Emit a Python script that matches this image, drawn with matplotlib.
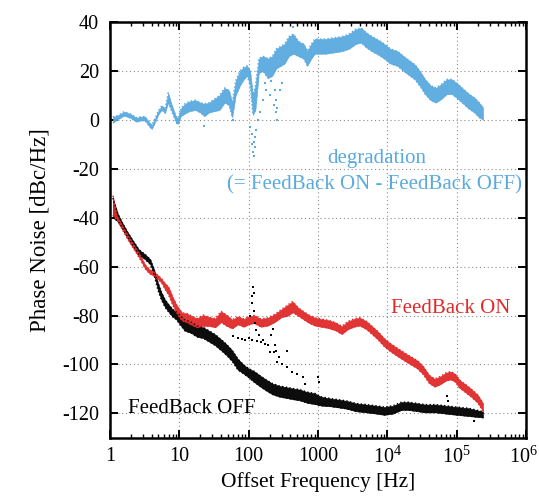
import numpy as np
import matplotlib.pyplot as plt
import matplotlib.transforms as mtransforms

plt.rcParams['font.family'] = ['Liberation Serif', 'DejaVu Serif']
plt.rcParams['mathtext.fontset'] = 'custom'
plt.rcParams['mathtext.rm'] = 'Liberation Serif'
plt.rcParams['mathtext.it'] = 'Liberation Serif:italic'

# degradation (ON - OFF): frequency [Hz], centre [dB], half width of the band [dB]
deg_f = [1.1, 1.3, 1.6, 2.0, 2.4, 2.8, 3.2, 3.6, 4.0, 4.5, 5.0, 5.6, 6.2, 6.9, 7.5, 8.2,
         9.0, 9.6, 10.5, 12, 14, 17, 20, 23, 27, 32, 38, 45, 52, 58, 65, 75, 85, 95,
         105, 115, 125, 140, 160, 190, 220, 250, 290, 330, 380, 440, 520, 620, 700,
         800, 900, 1000, 1300, 1700, 2200, 2800, 3500, 4200, 5000, 6000, 7500, 9000,
         11000, 14000, 17000, 20000, 25000, 30000, 35000, 42000, 50000, 60000, 72000,
         85000, 100000, 125000, 150000, 180000, 210000, 240000]
deg_c = [0, 1, 2.5, 1.5, 0, 0.5, 0.5, -1.5, -3, 0, 3, 5, 3.5, 9, 6, 3,
         0, -0.5, 3, 4.5, 5.5, 6, 5, 4, 5, 6, 7, 10, 9, 4, 13, 17, 19, 20,
         17, 6, 9, 22, 23, 21, 22, 25, 26, 27, 30, 31, 29, 28, 25,
         28, 30, 30, 30, 30.5, 31, 32, 34, 34.5, 32.5, 31, 29.5, 28,
         26, 25, 23, 21.5, 19.5, 16.5, 13.5, 11, 10, 11.5, 13.5,
         13.5, 12, 9.5, 7.5, 6, 4, 2.5]
deg_h = [1.2, 0.8, 0.8, 0.8, 0.8, 0.8, 0.8, 0.8, 0.8, 0.8, 0.8, 0.8, 0.8, 2, 1.5, 1.2,
         1.2, 1.2, 1.5, 2, 2, 2, 2, 2.5, 2, 2.5, 3, 3, 3, 3, 3, 3, 2.5, 2,
         3, 4, 5, 3, 3, 4, 4, 4, 4, 4, 4, 4, 3, 3, 3,
         3, 3, 3, 3, 3, 3, 3, 3, 3, 3, 3, 3, 3,
         3, 3, 3, 3, 3, 3, 3, 3, 3, 3, 3,
         3, 3, 3, 3, 3, 3, 2.5]
# scattered blue points off the band
deg_sf = [105, 110, 113, 116, 118, 120, 122, 125, 128, 135, 145, 160, 180, 200, 230,
          240, 245, 250, 255, 260, 300, 440, 60, 23, 9.3, 170, 210, 280]
deg_sv = [-3, -6, -10, -13, -15, -9, -7, -11, -4, 0, 3, 8, 12, 10, 6,
          12, 8, 3, 0, 5, 15, 38, 0, -2.5, -1.5, 15, 16, 12]

# FeedBack ON
on_f = [1.1, 1.25, 1.5, 1.8, 2.2, 2.7, 3.2, 3.7, 4.3, 5.0, 5.6, 6.2, 7.0, 8.0, 9.0, 10,
        11, 13, 15, 18, 22, 27, 33, 40, 48, 58, 70, 85, 100, 120, 150, 190, 240, 300,
        360, 430, 520, 620, 750, 900, 1100, 1400, 1800, 2200, 2700, 3300, 4000, 5000,
        6000, 7200, 9000, 11000, 14000, 18000, 22000, 27000, 33000, 40000, 48000,
        58000, 70000, 82000, 95000, 110000, 130000, 160000, 200000, 240000]
on_c = [-35, -40, -44, -48, -52, -56, -60, -62, -63, -64.5, -66, -68, -70, -74, -77, -79,
        -80.5, -81, -82, -83, -82, -82.5, -83, -80.5, -82, -83.5, -82, -83, -82, -81.5,
        -83, -82.5, -81, -79, -78, -76.5, -78.5, -80, -81.5, -82.5, -83, -83.5, -84.5,
        -86, -84, -83, -82.5, -84, -86, -88, -91, -93, -95, -97, -98.5, -100, -102.5,
        -106, -107.5, -106.5, -105, -104.5, -105.5, -108, -109.5, -111.5, -114, -117.5]
on_h = [4, 0.8, 0.8, 0.8, 0.8, 0.8, 0.8, 0.8, 0.8, 0.8, 0.8, 1.2, 1.6, 1.6, 1.6, 1.6,
        1.6, 1.8, 1.8, 1.8, 2.2, 1.8, 1.8, 2.2, 2.2, 1.8, 1.6, 1.6, 1.6, 1.6, 1.6, 1.6,
        1.6, 1.6, 2.2, 2.2, 1.6, 1.6, 1.6, 1.6, 1.6, 1.6, 1.6, 1.6, 1.6, 1.6, 1.6, 1.6,
        1.6, 1.6, 1.6, 1.6, 1.6, 1.6, 1.6, 1.6, 1.6, 1.6, 1.6,
        1.6, 1.6, 1.6, 1.6, 1.6, 1.6, 1.6, 1.6, 1.6]

# FeedBack OFF
off_f = [1.1, 1.3, 1.5, 1.8, 2.1, 2.6, 3.2, 3.8, 4.3, 4.9, 5.5, 6.2, 7.0, 8.0, 9.0, 10,
         12, 15, 18, 22, 27, 33, 40, 48, 58, 70, 85, 100, 120, 150, 180, 220, 280, 350,
         430, 550, 700, 900, 1100, 1500, 2000, 2600, 3500, 5000, 7000, 9000, 12000,
         16000, 20000, 27000, 35000, 50000, 70000, 100000, 150000, 240000]
off_c = [-36, -40, -43, -47, -50, -54, -56, -58, -62, -68, -72, -75, -77, -79, -80, -81.5,
         -84, -85, -86.5, -87, -88.5, -90, -92, -94, -96.5, -100, -102, -103.5, -105,
         -107, -108.5, -110, -111, -111.5, -112, -112.5, -113.5, -114, -115, -115.5,
         -116, -116.5, -117.5, -118, -118.5, -119, -118.5, -117, -117, -117.5, -118,
         -118, -118.5, -119, -119.5, -120.5]
off_h = [4, 1.5, 1, 1, 1, 1, 1, 1, 1, 1.5, 1.5, 1.5, 1.5, 1.5, 1.5, 1.8,
         2.2, 2.2, 2.2, 2.2, 2.2, 2.2, 2.2, 2.2, 2.2, 2.2, 1.8, 1.8, 2.2, 2.2, 2.2, 2.2,
         2.2, 2.2, 2.2, 2.2, 2.2, 2.2, 1.8, 1.6, 1.6, 1.6, 1.6, 1.6, 1.6, 1.6, 1.6,
         1.6, 1.6, 1.6, 1.6, 1.6, 1.6, 1.6, 1.6, 1.2]
# scattered black points (second sweep and spurs)
off_sf = [60, 70, 80, 90, 100, 110, 130, 140, 150, 160, 170, 190, 210, 230, 270, 300,
          105, 110, 113, 116, 118, 120, 124, 128, 200, 225, 240, 250, 255, 360, 360,
          420, 500, 610, 640, 1000, 1050, 73000, 75000, 180000]
off_sv = [-88.5, -89, -89.5, -90, -89, -90, -90.5, -88, -91, -90, -91.5, -92, -88,
          -95, -97, -100, -80, -75, -72, -68.5, -71, -78, -83, -86, -95, -85.5, -92,
          -94.5, -99, -94.5, -101, -103, -104, -105, -108, -105, -107, -113, -115, -123]

blue = '#5aaae0'
red = '#e02a2a'

fig = plt.figure(figsize=(5.39, 4.97), dpi=100)
ax = fig.add_axes([0.204, 0.119, 0.772, 0.837])

for f, c, h, col in [(deg_f, deg_c, deg_h, blue), (off_f, off_c, off_h, 'black'),
                     (on_f, on_c, on_h, red)]:
    c = np.array(c)
    h = np.array(h)
    ax.fill_between(f, c - h, c + h, color=col, lw=0.4, alpha=0.95)
    ax.plot(f, c + h, ':', color=col, lw=1.0)
    ax.plot(f, c - h, ':', color=col, lw=1.0)

ax.plot(deg_sf, deg_sv, 's', color=blue, ms=1.6, mew=0)
ax.plot(off_sf, off_sv, 's', color='black', ms=1.6, mew=0)

ax.set_xscale('log')
ax.set_xlim(1, 1e6)
ax.set_ylim(-130, 40)

x_ticks = [1, 10, 100, 1000, 1e4, 1e5, 1e6]
x_labels = ['1', '10', '100', '1000', r'$10^{4}$', r'$10^{5}$', r'$10^{6}$']
y_ticks = [-120, -100, -80, -60, -40, -20, 0, 20, 40]
ax.set_xticks(x_ticks)
ax.set_xticklabels(x_labels)
ax.set_yticks(y_ticks)
ax.set_yticklabels([str(v) for v in y_ticks])

ax.tick_params(which='both', direction='in', top=True, right=True, labelsize=14.5)
ax.tick_params(which='major', length=6, width=1.4)
ax.tick_params(which='minor', length=3, width=1.0)
ax.tick_params(axis='x', pad=6.5)
ax.tick_params(axis='y', pad=8)
ax.tick_params(axis='y', which='minor', left=False, right=False)
for s in ax.spines.values():
    s.set_linewidth(1.8)

# nudge the last x label inside the figure
lab = ax.get_xticklabels()[-1]
lab.set_transform(lab.get_transform() +
                  mtransforms.ScaledTranslation(-0.025, 0, fig.dpi_scale_trans))

ax.grid(True, which='major', color='#8c8c8c', linestyle=(0, (1, 2.5)), lw=0.8)
ax.set_axisbelow(True)

ax.set_xlabel('Offset Frequency [Hz]', fontsize=15.5, labelpad=3)
ax.set_ylabel('Phase Noise [dBc/Hz]', fontsize=16.5, labelpad=8)

ax.text(6980, -17.7, 'degradation', color=blue, fontsize=15, ha='center', va='baseline')
ax.text(6530, -28.3, '(= FeedBack ON - FeedBack OFF)', color=blue, fontsize=15,
        ha='center', va='baseline')
ax.text(8.15e4, -78.8, 'FeedBack ON', color=red, fontsize=15, ha='center', va='baseline')
ax.text(15.3, -119.7, 'FeedBack OFF', color='black', fontsize=15, ha='center',
        va='baseline')

fig.savefig('out.png', dpi=100)
